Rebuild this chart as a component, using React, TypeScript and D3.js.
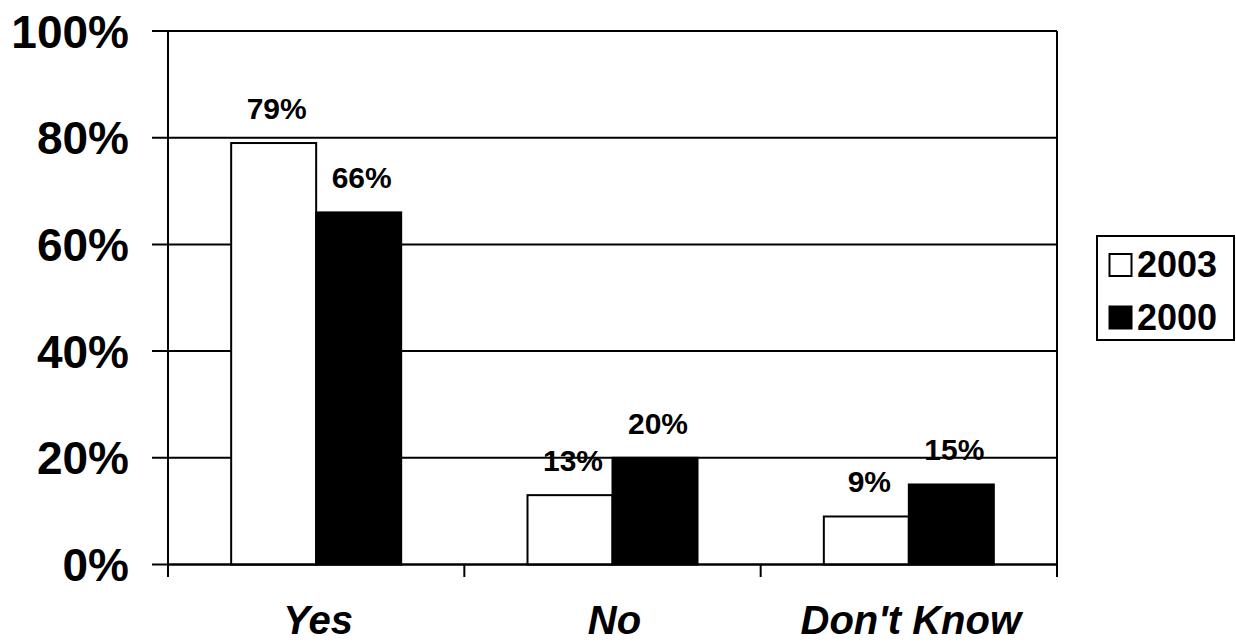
import React from "react";
import * as d3 from "d3";

const categories = ["Yes", "No", "Don't Know"];
const seriesNames = ["2003", "2000"];
const values2003 = [79, 13, 9];
const values2000 = [66, 20, 15];
const yTicks = [0, 20, 40, 60, 80, 100];
const seriesFills = ["#ffffff", "#000000"];

const W = 1236;
const H = 643;
const left = 168;
const right = 1057;
const top = 31;
const bottom = 564.5;
const FONT = "'Liberation Sans', Arial, sans-serif";

export default function App() {
  const x0 = d3.scaleBand<string>().domain(categories).range([left, right]).paddingInner(0).paddingOuter(0);
  const groupW = x0.bandwidth();
  const barW = 85;
  const x1 = d3
    .scaleBand<string>()
    .domain(seriesNames)
    .range([(groupW - 2 * barW) / 2, (groupW + 2 * barW) / 2]);
  const y = d3.scaleLinear().domain([0, 100]).range([bottom, top]);
  const series = [values2003, values2000];
  const catTicks = [...categories.map((c) => x0(c) as number), right];

  return (
    <svg
      width={W}
      height={H}
      style={{ position: "absolute", left: 0, top: 0, background: "#fff" }}
      fontFamily={FONT}
      fontWeight="bold"
    >
      <rect x={0} y={0} width={W} height={H} fill="#fff" />
      {/* gridlines & y ticks */}
      {yTicks.map((t) => (
        <g key={t}>
          <line x1={152} x2={right} y1={y(t)} y2={y(t)} stroke="#000" strokeWidth={2} />
          <text x={129} y={y(t) + 16.5} textAnchor="end" fontSize={46}>
            {t}%
          </text>
        </g>
      ))}
      {/* bars */}
      {categories.map((c, ci) => (
        <g key={c}>
          {seriesNames.map((s, si) => {
            const v = series[si][ci];
            const bx = (x0(c) as number) + (x1(s) as number);
            return (
              <g key={s}>
                <rect
                  x={bx}
                  y={y(v)}
                  width={x1.bandwidth()}
                  height={bottom - y(v)}
                  fill={seriesFills[si]}
                  stroke="#000"
                  strokeWidth={2}
                />
                <text x={bx + x1.bandwidth() / 2 + 3} y={y(v) - 24} textAnchor="middle" fontSize={30}>
                  {v}%
                </text>
              </g>
            );
          })}
        </g>
      ))}
      {/* axes */}
      <line x1={left} x2={left} y1={top} y2={577} stroke="#000" strokeWidth={2} />
      <line x1={right} x2={right} y1={top} y2={577} stroke="#000" strokeWidth={2} />
      <line x1={left} x2={right} y1={bottom} y2={bottom} stroke="#000" strokeWidth={2} />
      {catTicks.map((t, i) => (
        <line key={i} x1={t} x2={t} y1={bottom} y2={577} stroke="#000" strokeWidth={2} />
      ))}
      {categories.map((c) => (
        <text
          key={c}
          x={(x0(c) as number) + groupW / 2 + 2}
          y={634}
          textAnchor="middle"
          fontSize={40}
          fontStyle="italic"
        >
          {c}
        </text>
      ))}
      {/* legend */}
      <rect x={1097} y={236} width={137} height={104} fill="#fff" stroke="#000" strokeWidth={2} />
      {seriesNames.map((s, i) => (
        <g key={s}>
          <rect
            x={1109.5}
            y={254 + i * 52.5}
            width={22}
            height={22}
            fill={seriesFills[i]}
            stroke="#000"
            strokeWidth={2}
          />
          <text x={1137} y={277 + i * 52.5} fontSize={36}>
            {s}
          </text>
        </g>
      ))}
    </svg>
  );
}
